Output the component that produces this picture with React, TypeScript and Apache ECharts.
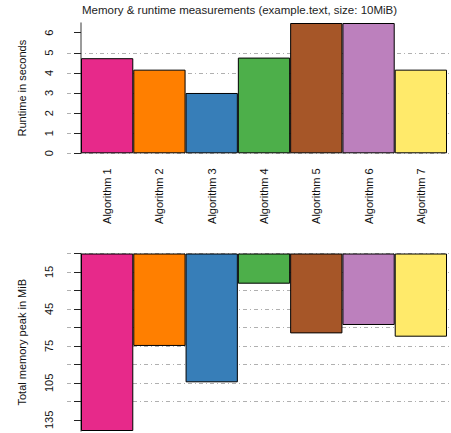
import React, { useEffect, useRef } from "react";
import * as echarts from "echarts";

const categories = ["Algorithm 1", "Algorithm 2", "Algorithm 3", "Algorithm 4", "Algorithm 5", "Algorithm 6", "Algorithm 7"];
const runtimeSeconds = [4.73, 4.16, 3.0, 4.76, 6.48, 6.48, 4.16];
const memoryPeakMiB = [144, 75, 104.5, 24.5, 64.8, 58, 67.5];
const barColors = ["#E7298A", "#FF7F00", "#377EB8", "#4DAF4A", "#A65628", "#BC80BD", "#FFEA6A"];
const runtimeTicks = [0, 1, 2, 3, 4, 5, 6];
const memoryTicks = [0, 15, 30, 45, 60, 75, 90, 105, 120, 135];
const memoryLabels = [15, 45, 75, 105, 135];
const titleText = "Memory & runtime measurements (example.text, size: 10MiB)";

const FONT = "Liberation Sans, Arial, Helvetica, sans-serif";

export default function App() {
  const ref = useRef<HTMLDivElement>(null);
  useEffect(() => {
    if (!ref.current) return;
    const chart = echarts.init(ref.current, undefined, { renderer: "svg" });
    const positions = categories.map((_, i) => i + 0.5);
    const xMin = -14 / 52.29;
    const xMax = 7.0765;
    const gridLine = {
      show: true,
      lineStyle: { color: "#b0b0b0", width: 1, type: [4, 3, 1, 3] as any },
      showMaxLine: false,
    };
    const yCommon = {
      axisLine: { show: true, lineStyle: { color: "#7a7a7a", width: 1.5 } },
      axisTick: { show: true, length: 7, lineStyle: { color: "#222", width: 1 } },
      nameLocation: "middle" as const,
      nameGap: 40,
      nameTextStyle: { fontFamily: FONT, fontSize: 11, color: "#111" },
    };
    const mkData = (vals: number[]) =>
      vals.map((v, i) => ({ value: [positions[i], v], itemStyle: { color: barColors[i] } }));
    chart.setOption({
      animation: false,
      title: {
        text: titleText,
        left: 82,
        top: 4,
        padding: 0,
        textStyle: { fontFamily: FONT, fontSize: 11.5, fontWeight: "normal", color: "#222" },
      },
      grid: [
        { left: 67, right: 0, top: 23, height: 130.3 },
        { left: 67, right: 0, top: 253.5, height: 177.5 },
      ],
      xAxis: [
        {
          type: "value",
          gridIndex: 0,
          min: xMin,
          max: xMax,
          axisLine: { show: false },
          axisTick: { show: false },
          splitLine: { show: false },
          axisLabel: {
            customValues: positions,
            formatter: (v: number) => categories[Math.round(v - 0.5)] ?? "",
            rotate: 90,
            margin: 15,
            fontFamily: FONT,
            fontSize: 11,
            color: "#111",
          },
        },
        {
          type: "value",
          gridIndex: 1,
          min: xMin,
          max: xMax,
          axisLine: { show: false },
          axisTick: { show: false },
          splitLine: { show: false },
          axisLabel: { show: false },
        },
      ],
      yAxis: [
        {
          ...yCommon,
          type: "value",
          gridIndex: 0,
          min: 0,
          max: 6.48,
          interval: 1,
          name: "Runtime in seconds",
          splitLine: gridLine,
          axisTick: { ...yCommon.axisTick, customValues: runtimeTicks },
          axisLabel: {
            customValues: runtimeTicks,
            rotate: 90,
            margin: 13,
            fontFamily: FONT,
            fontSize: 11,
            color: "#111",
          },
        },
        {
          ...yCommon,
          type: "value",
          gridIndex: 1,
          min: 0,
          max: 144,
          interval: 15,
          inverse: true,
          name: "Total memory peak in MiB",
          splitLine: gridLine,
          axisTick: { ...yCommon.axisTick, customValues: memoryTicks },
          axisLabel: {
            customValues: memoryLabels,
            rotate: 90,
            margin: 13,
            fontFamily: FONT,
            fontSize: 11,
            color: "#111",
          },
        },
      ],
      series: [
        {
          type: "bar",
          xAxisIndex: 0,
          yAxisIndex: 0,
          barWidth: "100%",
          barCategoryGap: "0%",
          itemStyle: { borderColor: "#000", borderWidth: 1 },
          data: mkData(runtimeSeconds),
        },
        {
          type: "bar",
          xAxisIndex: 1,
          yAxisIndex: 1,
          barWidth: "100%",
          barCategoryGap: "0%",
          itemStyle: { borderColor: "#000", borderWidth: 1 },
          data: mkData(memoryPeakMiB),
        },
      ],
    });
    return () => chart.dispose();
  }, []);
  return (
    <div
      ref={ref}
      style={{ position: "fixed", left: 0, top: 0, width: 451, height: 433, background: "#fff" }}
    />
  );
}
